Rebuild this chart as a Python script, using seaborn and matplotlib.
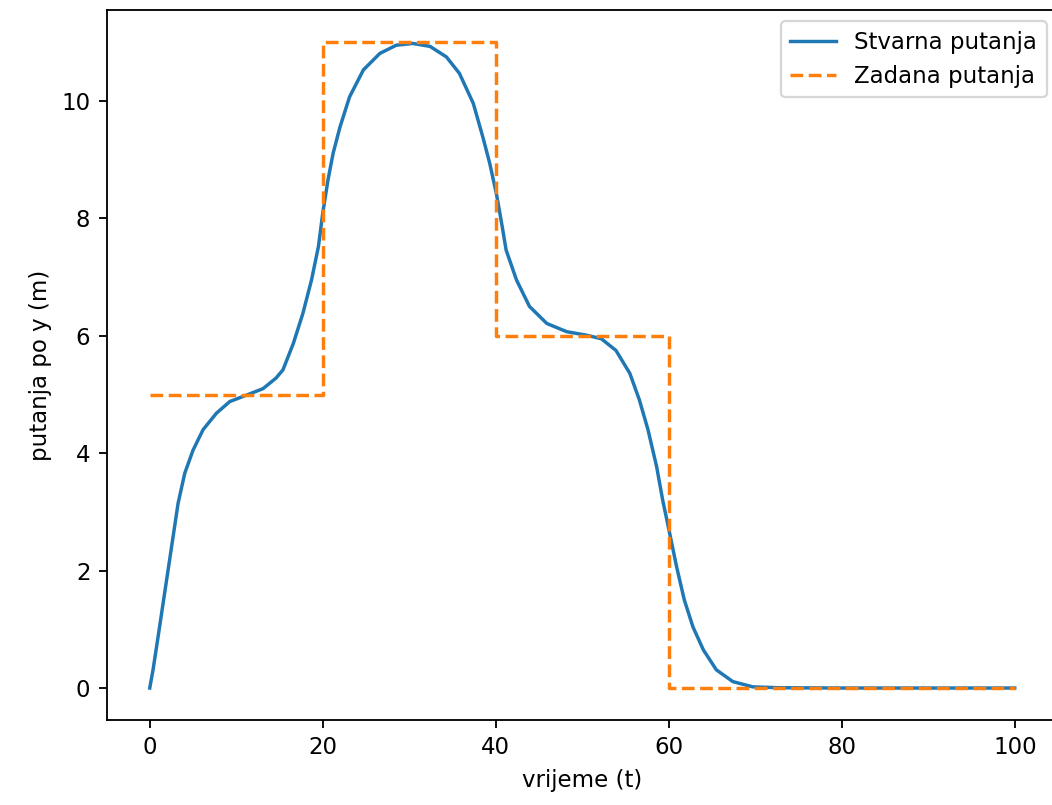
import seaborn as sns
import matplotlib.pyplot as plt

# stvarna putanja
t_stvarna = [0, 0.38, 0.96, 1.54, 2.12, 2.7, 3.28, 4.05, 5.0, 6.16, 7.7, 9.25,
             11.2, 13.1, 14.6, 15.4, 16.6, 17.7, 18.7, 19.5, 20.0, 20.6, 21.2,
             22.0, 23.1, 24.7, 26.6, 28.5, 30.4, 32.4, 34.3, 35.8, 37.4, 38.5,
             39.3, 40.1, 40.7, 41.2, 42.4, 43.9, 45.9, 48.2, 50.5, 52.2, 53.9,
             55.5, 56.6, 57.6, 58.6, 59.3, 60.1, 60.9, 61.8, 62.8, 64.0, 65.5,
             67.4, 69.7, 72.8, 80, 90, 100]
y_stvarna = [0, 0.31, 0.87, 1.44, 2.01, 2.58, 3.15, 3.66, 4.05, 4.40, 4.68, 4.88,
             4.99, 5.1, 5.28, 5.42, 5.87, 6.38, 6.95, 7.52, 8.09, 8.65, 9.11,
             9.56, 10.07, 10.53, 10.81, 10.95, 10.98, 10.93, 10.75, 10.47, 9.96, 9.39,
             8.94, 8.4, 7.9, 7.46, 6.95, 6.50, 6.21, 6.07, 6.01, 5.95, 5.75,
             5.36, 4.91, 4.40, 3.77, 3.20, 2.64, 2.07, 1.50, 1.04, 0.65, 0.31,
             0.11, 0.02, 0.005, 0, 0, 0]

# zadana putanja (step reference)
t_zadana = [0, 20, 40, 60, 100]
y_zadana = [5, 11, 6, 0, 0]

fig = plt.figure(figsize=(1052 / 165, 805 / 165), dpi=165)
ax = fig.add_axes([106.5 / 1052, 0.1052, 951.5 / 1052, 0.8824])

sns.lineplot(x=t_stvarna, y=y_stvarna, ax=ax, label="Stvarna putanja",
             color="tab:blue", sort=False)
sns.lineplot(x=t_zadana, y=y_zadana, ax=ax, label="Zadana putanja",
             color="tab:orange", linestyle="--", drawstyle="steps-post", sort=False)

ax.set_xlabel("vrijeme (t)")
ax.set_ylabel("putanja po y (m)")
ax.set_xticks([0, 20, 40, 60, 80, 100])
ax.set_yticks([0, 2, 4, 6, 8, 10])
ax.legend(loc="upper right")

fig.savefig("out.png", dpi=165)
